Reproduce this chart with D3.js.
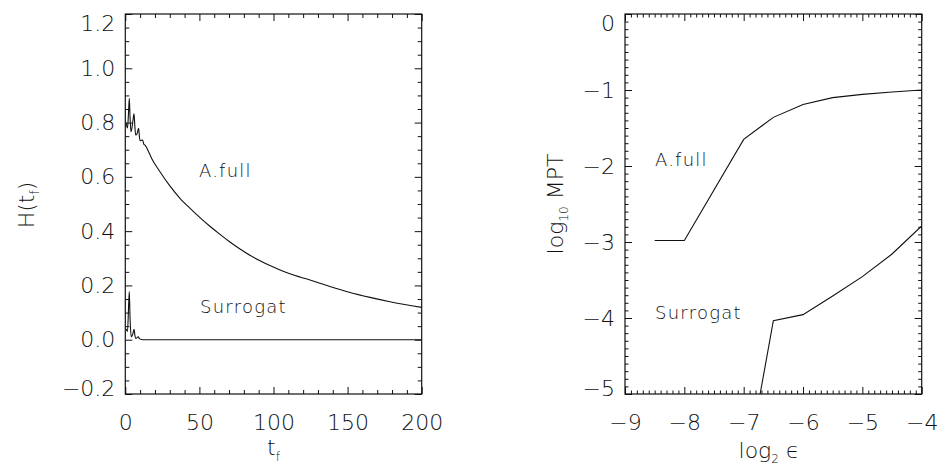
<!DOCTYPE html>
<html><head><meta charset="utf-8">
<script src="https://cdn.jsdelivr.net/npm/d3@7"></script>
<style>
html,body{margin:0;padding:0;background:#fff;}
svg text{font-family:"DejaVu Sans",sans-serif;font-weight:200;fill:#111;}
</style></head>
<body><svg id="c" width="939" height="468"></svg>
<script>
// ---- Left panel data: H(t_f) ----
const fullT = [0.5,1.5,2.2,2.7,3.2,3.8,4.5,5.2,5.9,6.4,7,8,9,9.5,9.9,11,11.7,12.5,13.3,14.9,17.8,23.4,30.2,36.9,43.7,50.4,57.1,63.9,70.6,77.4,84.1,90.9,97.6,104.4,111.1,117.9,124.6,131.4,138.1,151.6,165.1,178.6,200];
const fullH = [0.80,0.78,0.84,0.889,0.82,0.766,0.78,0.81,0.832,0.79,0.754,0.76,0.779,0.75,0.733,0.735,0.736,0.72,0.717,0.702,0.668,0.619,0.566,0.521,0.484,0.450,0.418,0.388,0.360,0.334,0.311,0.291,0.273,0.257,0.243,0.231,0.220,0.208,0.196,0.174,0.156,0.140,0.119];
const surT = [0.5,1.5,2.2,2.7,3.2,4,5,5.9,6.5,7,8,8.8,9.5,11,13,50,100,150,200];
const surH = [0.04,0.03,0.12,0.177,0.08,0.011,0.02,0.038,0.015,0.005,0.008,0.011,0.004,0.001,0,0,0,0,0];
const leftXTicks = [0,50,100,150,200];
const leftYTicks = [-0.2,0,0.2,0.4,0.6,0.8,1.0,1.2];

// ---- Right panel data: log10 MPT vs log2 eps ----
const fullEps = [-8.5,-8,-7,-6.5,-6,-5.5,-5,-4.5,-4];
const fullMPT = [-2.98,-2.98,-1.65,-1.36,-1.19,-1.10,-1.057,-1.026,-1.0];
const surEps = [-7,-6.5,-6,-5.5,-5,-4.5,-4];
const surMPT = [-6.2,-4.035,-3.956,-3.71,-3.456,-3.158,-2.789];
const rightXTicks = [-9,-8,-7,-6,-5,-4];
const rightYTicks = [0,-1,-2,-3,-4,-5];

const svg = d3.select("#c");
const FS = 22;

function panel(opt){
  const g = svg.append("g");
  const {L,R,T,B} = opt;
  const x = d3.scaleLinear().domain(opt.xd).range([L,R]);
  const y = d3.scaleLinear().domain(opt.yd).range([B,T]);
  const cid = "clip"+opt.id;
  svg.append("clipPath").attr("id",cid).append("rect").attr("x",L).attr("y",T).attr("width",R-L).attr("height",B-T);

  const styleAx = sel => { sel.select(".domain").remove(); sel.selectAll("line").attr("stroke","#111").attr("stroke-width",1); };
  // minor ticks
  const mx = opt.minorX.filter(v=>!opt.xt.some(t=>Math.abs(t-v)<1e-9));
  const my = opt.minorY.filter(v=>!opt.yt.some(t=>Math.abs(t-v)<1e-9));
  const ms = opt.minorLen, Ms = 7;
  g.append("g").attr("transform",`translate(0,${B})`).call(d3.axisBottom(x).tickValues(mx).tickSize(-ms).tickFormat("")).call(styleAx);
  g.append("g").attr("transform",`translate(0,${T})`).call(d3.axisTop(x).tickValues(mx).tickSize(-ms).tickFormat("")).call(styleAx);
  g.append("g").attr("transform",`translate(${L},0)`).call(d3.axisLeft(y).tickValues(my).tickSize(-ms).tickFormat("")).call(styleAx);
  g.append("g").attr("transform",`translate(${R},0)`).call(d3.axisRight(y).tickValues(my).tickSize(-ms).tickFormat("")).call(styleAx);
  // major ticks
  g.append("g").attr("transform",`translate(0,${T})`).call(d3.axisTop(x).tickValues(opt.xt).tickSize(-Ms).tickFormat("")).call(styleAx);
  g.append("g").attr("transform",`translate(${R},0)`).call(d3.axisRight(y).tickValues(opt.yt).tickSize(-Ms).tickFormat("")).call(styleAx);
  const bx = g.append("g").attr("transform",`translate(0,${B})`).call(d3.axisBottom(x).tickValues(opt.xt).tickSize(-Ms).tickPadding(20).tickFormat(opt.fx)).call(styleAx);
  const ly = g.append("g").attr("transform",`translate(${L},0)`).call(d3.axisLeft(y).tickValues(opt.yt).tickSize(-Ms).tickPadding(10).tickFormat(opt.fy)).call(styleAx);
  [bx,ly].forEach(a=>a.selectAll("text").attr("font-size",FS).attr("font-family",null).attr("fill","#111"));
  ly.selectAll(".tick").each(function(d){
    const t = d3.select(this).select("text");
    if (Math.abs(d-opt.yd[1])<1e-9) t.attr("dy","0.75em");
    else if (Math.abs(d-opt.yd[0])<1e-9) t.attr("dy","0.05em");
  });
  // frame
  g.append("rect").attr("x",L).attr("y",T).attr("width",R-L).attr("height",B-T).attr("fill","none").attr("stroke","#111").attr("stroke-width",1.2);

  const line = d3.line().x(d=>x(d[0])).y(d=>y(d[1])).curve(opt.curve);
  opt.series.forEach(s=>{
    g.append("path").datum(d3.zip(s.x,s.y)).attr("d",line).attr("fill","none").attr("stroke","#111").attr("stroke-width",1.1).attr("clip-path",`url(#${cid})`);
  });
  opt.labels.forEach(l=>{
    g.append("text").attr("x",l.x).attr("y",l.y).attr("font-size",18).attr("letter-spacing",1.2).text(l.t);
  });
  return {x,y};
}

panel({id:"L",L:125.3,R:421.7,T:14,B:394,xd:[0,200],yd:[-0.2,1.2],
  xt:leftXTicks, yt:leftYTicks, minorX:d3.range(0,201,10), minorY:d3.range(-0.2,1.2001,0.05).map(v=>+v.toFixed(2)),
  minorLen:4, fx:d3.format("d"), fy:d3.format(".1f"), curve:d3.curveMonotoneX,
  series:[{x:fullT,y:fullH},{x:surT,y:surH}],
  labels:[{x:199,y:177,t:"A.full"},{x:200,y:313,t:"Surrogat"}]});

panel({id:"R",L:625,R:921.7,T:14,B:394,xd:[-9,-4],yd:[-5,0],
  xt:rightXTicks, yt:rightYTicks, minorX:d3.range(-9,-3.999,0.1).map(v=>+v.toFixed(1)), minorY:d3.range(-5,0.0001,0.1).map(v=>+v.toFixed(1)),
  minorLen:3.5, fx:d3.format("d"), fy:d3.format("d"), curve:d3.curveLinear,
  series:[{x:fullEps,y:fullMPT},{x:surEps,y:surMPT}],
  labels:[{x:655,y:166,t:"A.full"},{x:655,y:319,t:"Surrogat"}]});

// axis titles
const t1 = svg.append("text").attr("x",273.5).attr("y",455).attr("font-size",FS).attr("text-anchor","middle");
t1.append("tspan").text("t");
t1.append("tspan").attr("font-size",12).attr("dy",6).text("f");

const t2 = svg.append("text").attr("transform","translate(34,205) rotate(-90)").attr("font-size",FS).attr("text-anchor","middle");
t2.append("tspan").text("H(t");
t2.append("tspan").attr("font-size",12).attr("dy",5).text("f");
t2.append("tspan").attr("dy",-5).text(")");

const t3 = svg.append("text").attr("transform","translate(563,204) rotate(-90)").attr("font-size",FS).attr("text-anchor","middle");
t3.append("tspan").text("log");
t3.append("tspan").attr("font-size",12).attr("dy",5).text("10");
t3.append("tspan").attr("dy",-5).text(" MPT");

const t4 = svg.append("text").attr("x",769).attr("y",458).attr("font-size",FS).attr("text-anchor","middle");
t4.append("tspan").text("log");
t4.append("tspan").attr("font-size",12).attr("dy",5).text("2");
t4.append("tspan").attr("dy",-5).text(" ϵ");
</script></body></html>
